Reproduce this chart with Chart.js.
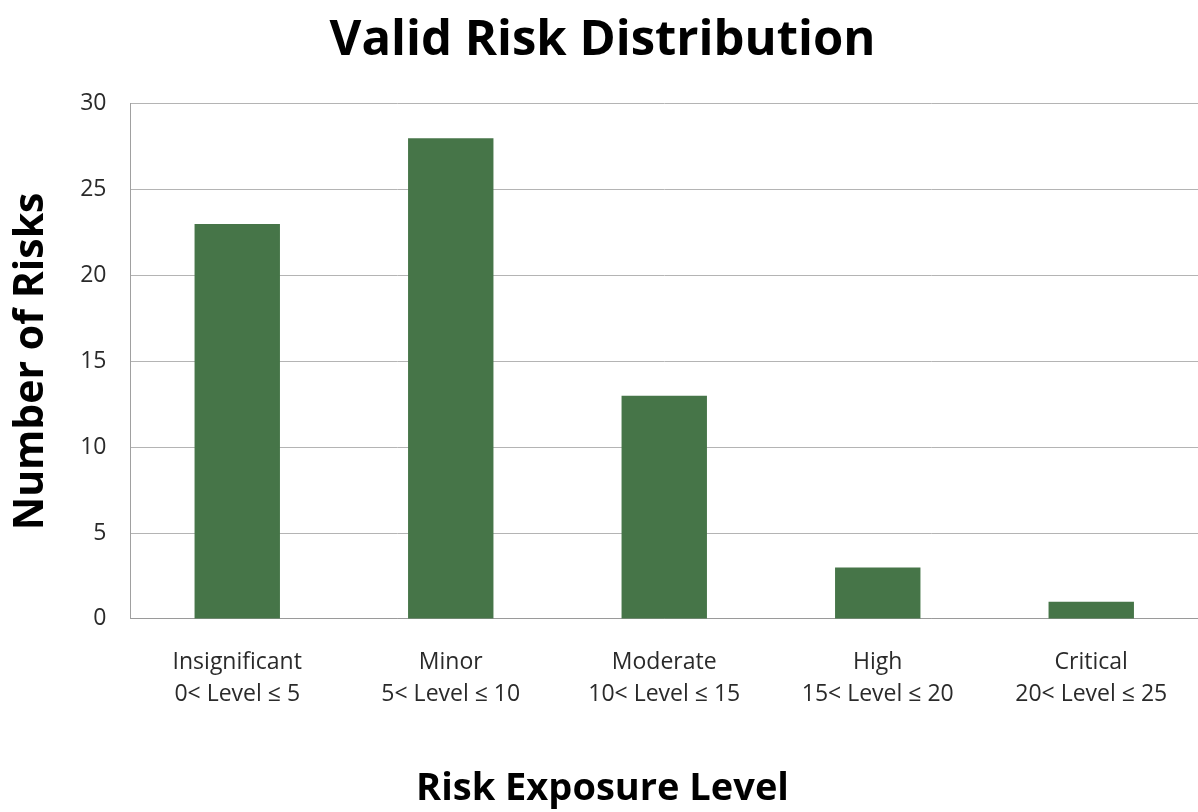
<!DOCTYPE html>
<html><head><meta charset="utf-8">
<script src="https://cdn.jsdelivr.net/npm/chart.js@4"></script>
<style>html,body{margin:0;padding:0;background:#fff}#c{display:block}</style>
</head><body>
<canvas id="c" width="1198" height="812"></canvas>
<script>
const categories = [
  ["Insignificant", "0< Level \u2264 5"],
  ["Minor", "5< Level \u2264 10"],
  ["Moderate", "10< Level \u2264 15"],
  ["High", "15< Level \u2264 20"],
  ["Critical", "20< Level \u2264 25"]
];
const riskCounts = [23, 28, 13, 3, 1];
const yTicks = [0, 5, 10, 15, 20, 25, 30];

new Chart(document.getElementById('c'), {
  type: 'bar',
  data: {
    labels: categories,
    datasets: [{
      data: riskCounts,
      backgroundColor: '#467548',
      borderWidth: 0,
      categoryPercentage: 0.8,
      barPercentage: 0.5
    }]
  },
  options: {
    responsive: false,
    animation: false,
    devicePixelRatio: 1,
    layout: { padding: { left: 7, right: 0, top: 0, bottom: 0 } },
    plugins: {
      legend: { display: false },
      tooltip: { enabled: false },
      title: {
        display: true,
        text: 'Valid Risk Distribution',
        color: '#000',
        font: { family: 'Open Sans', size: 49, weight: 'bold' },
        padding: { top: 12, bottom: 33 }
      },
      subtitle: {
        display: true,
        position: 'bottom',
        text: 'Risk Exposure Level',
        color: '#000',
        font: { family: 'Open Sans', size: 38, weight: 'bold' },
        padding: { top: 28, bottom: 0 }
      }
    },
    scales: {
      x: {
        grid: { display: false, drawTicks: false },
        border: { display: true, color: '#9a9a9a', width: 1 },
        ticks: {
          color: '#2a2a2a',
          font: { family: 'Open Sans', size: 23, lineHeight: 1.38 },
          padding: 28,
          maxRotation: 0
        }
      },
      y: {
        min: 0, max: 30,
        afterBuildTicks: (s) => { s.ticks = yTicks.map(v => ({ value: v })); },
        grid: { color: '#b4b4b4', drawTicks: false, lineWidth: 1 },
        border: { display: true, color: '#a0a0a0' },
        ticks: {
          color: '#2a2a2a',
          font: { family: 'Open Sans', size: 23 },
          padding: 24
        },
        title: {
          display: true,
          text: 'Number of Risks',
          color: '#000',
          font: { family: 'Open Sans', size: 41, weight: 'bold' },
          padding: { top: 0, bottom: 0 }
        }
      }
    }
  }
});
</script>
</body></html>
